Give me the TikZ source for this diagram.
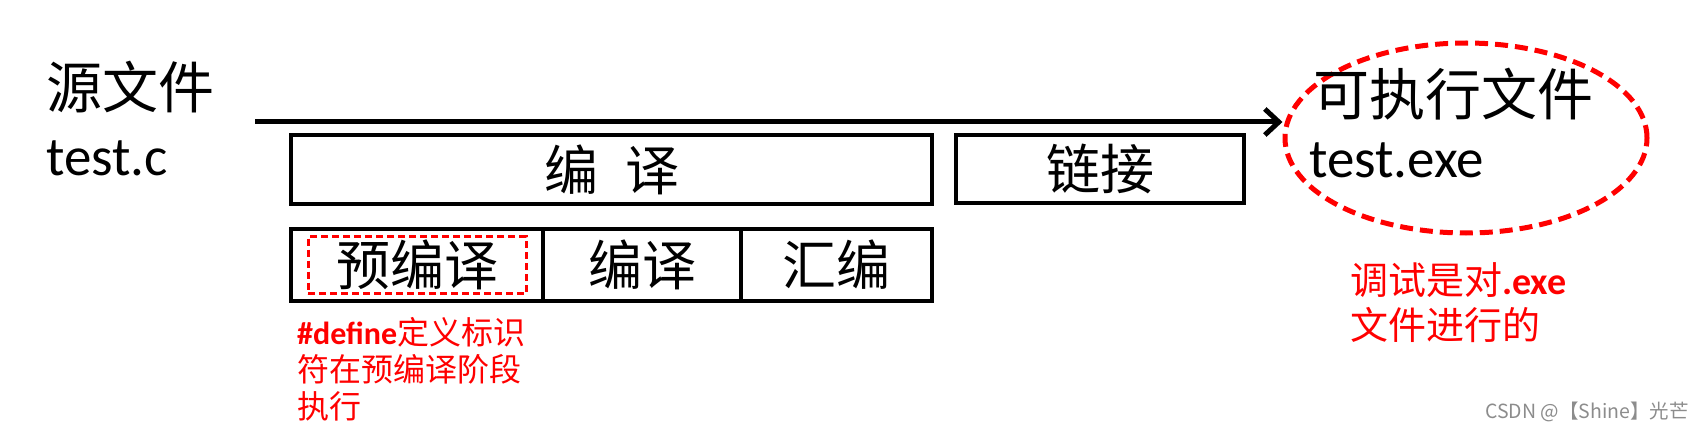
\documentclass[tikz,border=0pt]{standalone}
\usepackage{fontspec}
\setmainfont{Carlito}
\newfontfamily\cjk{Noto Sans CJK SC}
\usetikzlibrary{arrows.meta,positioning,shapes.geometric}

\tikzset{
  stage/.style={draw,line width=3.5pt,outer sep=0pt,inner sep=0pt,
    font=\cjk\fontsize{54}{60}\selectfont},
  bigtext/.style={anchor=west,inner sep=0pt,font=\fontsize{55}{62}\selectfont},
  note/.style={anchor=west,inner sep=0pt,align=left,text=red},
}

\begin{document}
\begin{tikzpicture}[x=1pt,y=-1pt]
  \useasboundingbox (0,0) rectangle (1703,433);
  % source file and executable
  \node[bigtext] (srcname) at (46,87) {\cjk\fontsize{56}{62}\selectfont 源文件};
  \node[bigtext] (srcfile) at (46,158) {test.c};
  \node[ellipse,draw=red,line width=5pt,dash pattern=on 13pt off 7pt,
    minimum width=362pt,minimum height=190pt] (exe) at (1466,138) {};
  \node[bigtext] (exename) at (1313,94) {\cjk\fontsize{56}{62}\selectfont 可执行文件};
  \node[bigtext] (exefile) at (1309,160) {test.exe};
  \coordinate (start) at (255,122);
  \draw[line width=5pt,-{Straight Barb[length=14pt,width=26pt]}] (start) -- (start -| exe.west);
  % stages
  \node[stage,minimum width=641pt,minimum height=69pt] (compile) at (611.5,169.5) {编\hspace{0.5em}译};
  \node[stage,minimum width=288pt,minimum height=68pt] (link) at (1100,169) {链接};
  \node[stage,minimum width=252pt,minimum height=72pt] (pre) at (417,265) {预编译};
  \node[stage,minimum width=198pt,minimum height=72pt,right=0pt of pre] (comp) {编译};
  \node[stage,minimum width=191pt,minimum height=72pt,right=0pt of comp] (asm) {汇编};
  \node[draw=red,line width=3pt,dash pattern=on 7pt off 4pt,
    minimum width=218pt,minimum height=57pt] (premark) at (pre) {};
  % notes
  \node[note,font=\fontsize{32}{37}\selectfont] (prenote) at (297,369)
    {\textbf{\#define}{\cjk 定义标识}\\{\cjk 符在预编译阶段}\\{\cjk 执行}};
  \node[note,font=\fontsize{38}{45}\selectfont] (exenote) at (1350,303)
    {{\cjk 调试是对}\textbf{.exe}\\{\cjk 文件进行的}};
  \node[anchor=east,inner sep=0pt,text=black!45,font=\cjk\fontsize{19.5}{22}\selectfont] (mark) at (1689,412)
    {CSDN @【Shine】光芒};
\end{tikzpicture}
\end{document}
